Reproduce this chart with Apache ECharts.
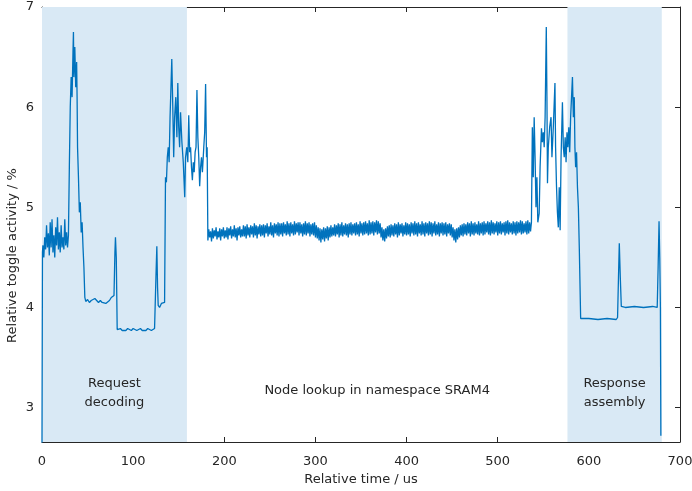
<!DOCTYPE html>
<html>
<head>
<meta charset="utf-8">
<script src="https://cdn.jsdelivr.net/npm/echarts@6/dist/echarts.min.js"></script>
<style>
  html, body { margin: 0; padding: 0; background: #fff; }
  #chart { width: 692px; height: 491px; }
</style>
</head>
<body>
<div id="chart"></div>
<script>
// request decoding part, until the trace drops onto the flat lookup band
var timeHead = [0, 0.5, 1, 2, 3, 4, 5, 6, 7, 8, 9, 10, 11, 12, 13, 14, 15, 16, 17, 18, 19, 20, 21, 22, 23, 24, 25, 26, 27, 28, 29,
  30, 31, 32, 33, 34, 34.5, 35, 36, 37, 38, 38.5, 39, 40, 41, 42, 43, 44, 45, 46, 47,
  48, 50, 52, 54, 56, 58, 60, 62, 64, 66, 68, 70, 72, 74, 76, 78, 79, 80, 80.6, 81.5, 82.5,
  84, 86, 88, 90, 92, 94, 96, 98, 100, 102, 104, 106, 108, 110, 112, 114, 116, 118, 120, 122, 123.5,
  125, 126, 126.8, 127.5, 129, 131, 133, 134.5, 135.5, 136.5, 137.5, 138.5, 139.5, 140.5, 141.5, 142.4,
  143.5, 144.5, 145.5, 146.8, 148, 149, 150, 151, 152, 153.5, 155, 156.6, 157.5, 158.8, 160, 161, 162,
  163, 164, 165, 166, 167, 168, 169, 170, 171, 172, 173, 174, 175, 176, 177.5, 178.5, 179.5, 180.5, 181.2, 181.8];
var valueHead = [2.65, 4.55, 4.62, 4.5, 4.7, 4.58, 4.82, 4.6, 4.74, 4.52, 4.85, 4.6, 4.88, 4.55, 4.72, 4.5, 4.8, 4.62, 4.9, 4.58, 4.75, 4.55, 4.82, 4.6, 4.7, 4.58, 4.88, 4.62, 4.75, 4.6, 4.72,
  5.4, 6.0, 6.3, 6.1, 6.55, 6.75, 6.3, 6.6, 6.2, 6.45, 6.1, 5.6, 5.3, 4.95, 5.05, 4.75, 4.85, 4.6, 4.4, 4.1,
  4.06, 4.08, 4.05, 4.07, 4.06, 4.09, 4.07, 4.05, 4.07, 4.05, 4.06, 4.04, 4.05, 4.07, 4.1, 4.09, 4.12, 4.55, 4.70, 4.5, 3.78,
  3.77, 3.79, 3.77, 3.78, 3.77, 3.79, 3.78, 3.77, 3.79, 3.78, 3.77, 3.78, 3.79, 3.77, 3.78, 3.77, 3.79, 3.78, 3.77, 3.78, 3.79,
  4.3, 4.61, 4.2, 4.02, 4.0, 4.04, 4.03, 4.05, 5.3, 5.25, 5.5, 5.6, 5.45, 5.9, 6.2, 6.48,
  6.0, 5.5, 5.9, 6.1, 5.7, 6.24, 5.8, 5.6, 5.95, 5.65, 5.45, 5.1, 5.5, 5.6, 5.45, 5.92, 5.55,
  5.6, 5.4, 5.27, 5.45, 5.35, 5.55, 5.6, 6.17, 5.7, 5.5, 5.21, 5.4, 5.5, 5.35, 5.6, 5.75, 6.23, 5.5, 5.6, 4.9];

// node lookup band, one reading per us from 182 us to 536 us
var bandStart = 182;
var bandStep = 1;
var bandValues = [
  4.67, 4.78, 4.70, 4.76, 4.66, 4.79, 4.69, 4.77, 4.71, 4.80, 4.68, 4.76, 4.70, 4.79, 4.67, 4.78, 4.71, 4.80, 4.69, 4.77,
  4.70, 4.80, 4.68, 4.79, 4.72, 4.81, 4.69, 4.78, 4.71, 4.82, 4.70, 4.79, 4.67, 4.80, 4.72, 4.81, 4.70, 4.78, 4.71, 4.82,
  4.71, 4.81, 4.69, 4.83, 4.72, 4.80, 4.70, 4.82, 4.73, 4.81, 4.70, 4.84, 4.72, 4.82, 4.69, 4.81, 4.73, 4.83, 4.71, 4.82,
  4.72, 4.83, 4.70, 4.82, 4.74, 4.84, 4.71, 4.81, 4.73, 4.85, 4.72, 4.82, 4.70, 4.84, 4.74, 4.83, 4.72, 4.85, 4.71, 4.84,
  4.73, 4.84, 4.71, 4.85, 4.74, 4.83, 4.72, 4.86, 4.73, 4.84, 4.71, 4.85, 4.74, 4.83, 4.72, 4.86, 4.73, 4.84, 4.75, 4.85,
  4.72, 4.85, 4.74, 4.83, 4.71, 4.84, 4.73, 4.86, 4.72, 4.84, 4.74, 4.85, 4.71, 4.83, 4.73, 4.84, 4.72, 4.85, 4.70, 4.82,
  4.69, 4.80, 4.67, 4.79, 4.65, 4.78, 4.68, 4.80, 4.66, 4.79, 4.69, 4.81, 4.67, 4.80, 4.70, 4.82, 4.71, 4.80, 4.72, 4.83,
  4.71, 4.82, 4.73, 4.84, 4.70, 4.83, 4.72, 4.85, 4.71, 4.82, 4.73, 4.84, 4.72, 4.83, 4.70, 4.84, 4.73, 4.85, 4.72, 4.83,
  4.74, 4.84, 4.72, 4.85, 4.73, 4.83, 4.71, 4.86, 4.74, 4.84, 4.72, 4.85, 4.73, 4.86, 4.74, 4.84, 4.72, 4.87, 4.73, 4.85,
  4.74, 4.86, 4.72, 4.85, 4.75, 4.87, 4.73, 4.86, 4.74, 4.84, 4.70, 4.80, 4.67, 4.78, 4.66, 4.79, 4.69, 4.81, 4.71, 4.82,
  4.70, 4.83, 4.72, 4.82, 4.71, 4.84, 4.73, 4.83, 4.70, 4.85, 4.72, 4.83, 4.74, 4.84, 4.71, 4.82, 4.73, 4.85, 4.72, 4.84,
  4.73, 4.83, 4.71, 4.85, 4.74, 4.84, 4.72, 4.86, 4.73, 4.84, 4.71, 4.85, 4.74, 4.83, 4.72, 4.86, 4.73, 4.84, 4.71, 4.85,
  4.74, 4.84, 4.72, 4.86, 4.73, 4.85, 4.71, 4.84, 4.74, 4.86, 4.72, 4.83, 4.73, 4.85, 4.71, 4.84, 4.74, 4.85, 4.72, 4.84,
  4.73, 4.85, 4.71, 4.83, 4.74, 4.84, 4.72, 4.83, 4.70, 4.80, 4.67, 4.78, 4.65, 4.79, 4.68, 4.80, 4.70, 4.82, 4.72, 4.83,
  4.71, 4.84, 4.73, 4.83, 4.72, 4.85, 4.74, 4.84, 4.71, 4.86, 4.73, 4.84, 4.72, 4.85, 4.74, 4.83, 4.73, 4.86, 4.72, 4.84,
  4.74, 4.85, 4.72, 4.86, 4.73, 4.84, 4.75, 4.86, 4.73, 4.85, 4.72, 4.87, 4.74, 4.85, 4.73, 4.84, 4.75, 4.86, 4.72, 4.85,
  4.74, 4.86, 4.73, 4.84, 4.75, 4.85, 4.72, 4.86, 4.74, 4.87, 4.73, 4.85, 4.75, 4.84, 4.73, 4.86, 4.74, 4.85, 4.72, 4.86,
  4.74, 4.85, 4.75, 4.87, 4.73, 4.86, 4.74, 4.84, 4.75, 4.86, 4.73, 4.87, 4.74, 4.85, 4.76];

// response assembly part
var timeTail = [537, 538, 539, 540, 541, 542, 543, 544, 545.5, 546.5, 548, 549, 550, 551, 552, 553.3, 554, 554.6, 555.5, 557,
  558.5, 559.5, 561, 562.8, 563.5, 564.5, 565.5, 566.5, 567.5, 568.5, 569.5, 571, 572, 573, 574, 575, 576, 577, 578, 579,
  580, 581, 582, 583, 584, 584.7, 585.5, 586.5, 587.5, 588.5, 589.5, 591,
  593, 600, 610, 620, 630, 631.5, 632.5, 633.4, 634.5, 635.6, 640, 650, 660, 670, 675, 676, 677, 677.8, 678.5, 679];
var valueTail = [4.85, 5.8, 5.3, 5.9, 5.5, 5.0, 5.3, 4.85, 4.94, 5.4, 5.79, 5.65, 5.75, 5.6, 5.9, 6.80, 6.1, 5.24, 5.6, 5.8,
  5.9, 5.5, 5.8, 6.24, 5.6, 5.21, 4.95, 4.8, 5.2, 4.77, 5.5, 6.05, 5.6, 5.5, 5.7, 5.45, 5.75, 5.6, 5.8, 5.55,
  5.9, 6.1, 6.3, 5.9, 6.1, 5.6, 5.4, 5.55, 5.2, 5.0, 4.6, 3.89,
  3.88, 3.89, 3.88, 3.89, 3.88, 3.9, 4.3, 4.64, 4.3, 4.01, 4.0, 4.01, 4.0, 4.01, 4.0, 4.4, 4.86, 4.5, 4.0, 2.72];

var phases = [
  { name: 'Request\ndecoding', from: 0, to: 159, shaded: true },
  { name: 'Node lookup in namespace SRAM4', from: 159, to: 576.5, shaded: false },
  { name: 'Response\nassembly', from: 576.5, to: 680, shaded: true }
];
var yTicks = [3, 4, 5, 6, 7];

var trace = [];
timeHead.forEach(function (t, i) { trace.push([t, valueHead[i]]); });
bandValues.forEach(function (v, i) { trace.push([bandStart + i * bandStep, v]); });
timeTail.forEach(function (t, i) { trace.push([t, valueTail[i]]); });

var ink = '#262626';
var font = 'DejaVu Sans';

var areas = phases.map(function (p) {
  return [{
    xAxis: p.from,
    itemStyle: { color: p.shaded ? 'rgb(217,233,245)' : 'rgba(0,0,0,0)' },
    label: {
      show: true,
      position: 'insideBottom',
      distance: p.shaded ? 30 : 42,
      formatter: p.name,
      color: ink,
      fontFamily: font,
      fontSize: 13,
      lineHeight: 19,
      align: 'center'
    }
  }, { xAxis: p.to }];
});

var axisBase = {
  axisLine: { show: true, onZero: false, lineStyle: { color: ink, width: 1 } },
  axisTick: { show: true, inside: true, length: 5, lineStyle: { color: ink } },
  splitLine: { show: false }
};

var charts = echarts.init(document.getElementById('chart'));
var option = {
  animation: false,
  grid: { left: 42, right: 12, top: 7, bottom: 49, containLabel: false, outerBoundsMode: 'none' },
  xAxis: [
    Object.assign({}, axisBase, {
      type: 'value', min: 0, max: 700, interval: 100,
      name: 'Relative time / us', nameLocation: 'middle', nameGap: 31,
      nameTextStyle: { color: ink, fontFamily: font, fontSize: 13 },
      axisLabel: { color: ink, fontFamily: font, fontSize: 13, margin: 13 }
    }),
    Object.assign({}, axisBase, {
      type: 'value', min: 0, max: 700, interval: 100, position: 'top',
      axisLabel: { show: false }
    })
  ],
  yAxis: [
    Object.assign({}, axisBase, {
      type: 'value', min: 2.657, max: 7,
      axisTick: { show: true, inside: true, length: 5, customValues: yTicks, lineStyle: { color: ink } },
      name: 'Relative toggle activity / %', nameLocation: 'middle', nameGap: 23, nameMoveOverlap: false,
      // label sits a bit below the axis middle in the original
      nameTextStyle: { color: ink, fontFamily: font, fontSize: 13, padding: [0, 62, 0, 0] },
      axisLabel: { color: ink, fontFamily: font, fontSize: 13, margin: 8, customValues: yTicks }
    }),
    Object.assign({}, axisBase, {
      type: 'value', min: 2.657, max: 7, position: 'right',
      axisTick: { show: true, inside: true, length: 5, customValues: yTicks, lineStyle: { color: ink } },
      axisLabel: { show: false }
    })
  ],
  series: [{
    type: 'line',
    data: trace,
    showSymbol: false,
    sampling: 'none',
    lineStyle: { color: '#0072bd', width: 1.3 },
    markArea: { silent: true, data: areas },
    z: 3
  }]
};
charts.setOption(option, true);
</script>
</body>
</html>
